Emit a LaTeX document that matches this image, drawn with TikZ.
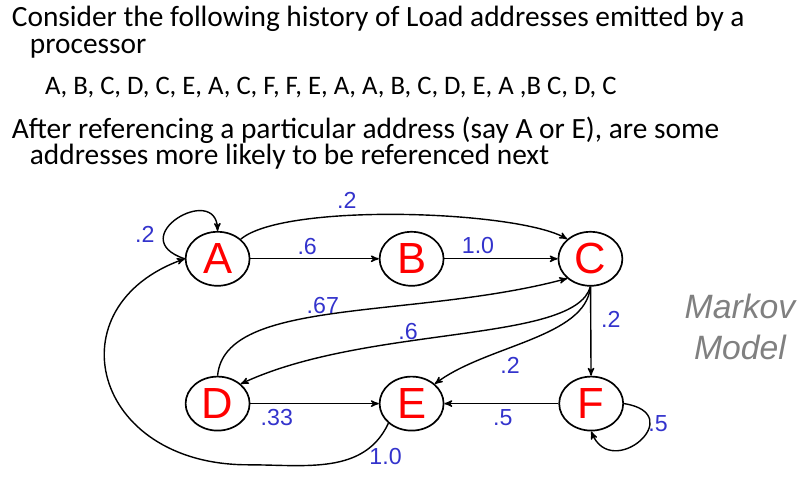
\documentclass[tikz,border=0pt]{standalone}
\usepackage{fontspec}
\setmainfont{Carlito}
\newfontfamily\arialfont{Liberation Sans}
\usetikzlibrary{arrows, shapes.geometric}
\definecolor{probblue}{RGB}{51,51,204}
\definecolor{markovgray}{RGB}{128,128,128}

\begin{document}
\begin{tikzpicture}[
 state/.style={ellipse, draw, line width=1.2pt, minimum width=1.6cm, minimum height=1.35cm,
  inner sep=0pt, text=red, font=\arialfont\fontsize{31}{31}\selectfont},
 trans/.style={-stealth', line width=1pt},
 prob/.style={text=probblue, inner sep=0pt, font=\arialfont\fontsize{16.5}{16.5}\selectfont},
 line/.style={anchor=base west, inner sep=0pt, font=\fontsize{20.9}{24}\selectfont}]

 \useasboundingbox (0,0) rectangle (20.025,11.95);

 % question text
 \node [line] (title1) at (0.29,11.28) {Consider the following history of Load addresses emitted by a};
 \node [line] (title2) at (0.74,10.62) {processor};
 \node [line, font=\fontsize{19}{22}\selectfont] (seq) at (1.12,9.58) {A, B, C, D, C, E, A, C, F, F, E, A, A, B, C, D, E, A ,B C, D, C};
 \node [line] (note1) at (0.29,8.49) {After referencing a particular address (say A or E), are some};
 \node [line] (note2) at (0.74,7.83) {addresses more likely to be referenced next};

 % states
 \node [state] (A) at (5.44,5.48) {A};
 \node [state] (B) at (10.29,5.48) {B};
 \node [state] (C) at (14.76,5.48) {C};
 \node [state] (D) at (5.44,1.86) {D};
 \node [state] (E) at (10.29,1.86) {E};
 \node [state] (F) at (14.78,1.86) {F};

 \draw [trans] (A) -- (B);
 \draw [trans] (B) -- (C);
 \draw [trans] (D) -- (E);
 \draw [trans] (F) -- (E);
 \draw [trans] (C) -- (F);
 \draw [trans] (A.north east) to [out=40, in=150, looseness=.45] (C.north west);
 \draw [trans] (A.west) .. controls (3.05,6.0) and (5.4,7.4) .. (A.north);
 \draw [trans] (F.east) .. controls (17.25,1.6) and (15.3,-0.1) .. (F.south);
 \draw [trans] (D.north) .. controls (5.61,4.53) and (10.34,3.96) .. (C.south west);
 \draw [trans] (C.south) .. controls (14.37,3.36) and (9.17,3.83) .. (D.north east);
 \draw [trans] (C.south) .. controls (14.65,3.51) and (12.16,3.32) .. (E.north east);
 \draw [trans] (E.south west) to [out=-115, in=0] (6.2,0.33) .. controls (2.3,0.33) and (1.3,4.3) .. (A.west);

 % probabilities
 \node [prob] (pAA) at (3.62,6.1) {.2};
 \node [prob] (pAC) at (8.67,6.93) {.2};
 \node [prob] (pAB) at (7.68,5.79) {.6};
 \node [prob] (pBC) at (11.95,5.8) {1.0};
 \node [prob] (pDC) at (8.07,4.32) {.67};
 \node [prob] (pCD) at (10.2,3.65) {.6};
 \node [prob] (pCE) at (12.75,2.81) {.2};
 \node [prob] (pCF) at (15.27,3.96) {.2};
 \node [prob] (pDE) at (6.92,1.5) {.33};
 \node [prob] (pFE) at (12.57,1.5) {.5};
 \node [prob] (pFF) at (16.45,1.35) {.5};
 \node [prob] (pEA) at (9.64,0.53) {1.0};

 \node [align=center, text=markovgray, font=\arialfont\itshape\fontsize{24}{29}\selectfont] (markov) at (18.5,3.78) {Markov\\Model};
\end{tikzpicture}
\end{document}
